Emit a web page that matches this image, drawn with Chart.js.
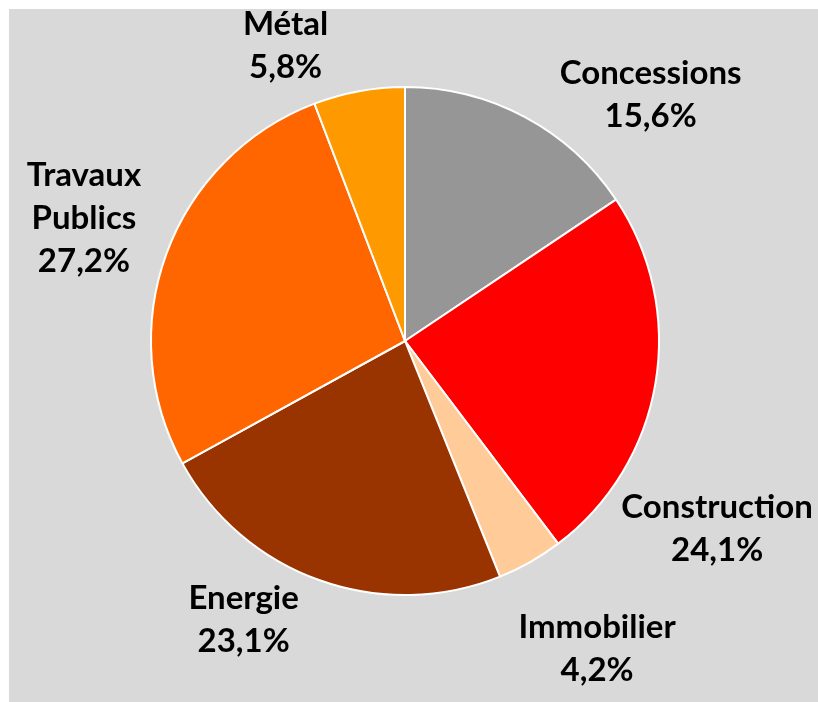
<!DOCTYPE html>
<html>
<head>
<meta charset="utf-8">
<script src="https://cdn.jsdelivr.net/npm/chart.js@4"></script>
<style>
  html, body { margin: 0; padding: 0; background: #ffffff; }
  #wrap { position: absolute; left: 0; top: 0; width: 818px; height: 702px; }
</style>
</head>
<body>
<div id="wrap"><canvas id="c" width="818" height="702"></canvas></div>
<script>
// ---- data ----
const categories = ['Concessions', 'Construction', 'Immobilier', 'Energie', 'Travaux Publics', 'Métal'];
const labelLines = [['Concessions'], ['Construction'], ['Immobilier'], ['Energie'], ['Travaux', 'Publics'], ['Métal']];
const values = [15.6, 24.1, 4.2, 23.1, 27.2, 5.8];
const colors = ['#969696', '#ff0000', '#ffcc99', '#993300', '#ff6600', '#ff9900'];

// label placement (polar, relative to pie centre: degrees clockwise from top, radius factor)
const labelLayout = [
  { angle: 44.9, dist: 1.370 },
  { angle: 121.1, dist: 1.435 },
  { angle: 148.0, dist: 1.427 },
  { angle: 210.1, dist: 1.267 },
  { angle: 290.9, dist: 1.353 },
  { angle: 338.0, dist: 1.255 }
];

function fmtPct(v) { return v.toFixed(1).replace('.', ',') + '%'; }

const bgPlugin = {
  id: 'bg',
  beforeDraw(chart) {
    const ctx = chart.ctx;
    ctx.save();
    ctx.fillStyle = '#ffffff';
    ctx.fillRect(0, 0, chart.width, chart.height);
    ctx.fillStyle = '#d9d9d9';
    ctx.fillRect(9, 9, chart.width - 9, chart.height - 9);
    ctx.restore();
  }
};

const labelPlugin = {
  id: 'outLabels',
  afterDatasetsDraw(chart) {
    const ctx = chart.ctx;
    const meta = chart.getDatasetMeta(0);
    ctx.save();
    ctx.fillStyle = '#000000';
    ctx.font = 'bold 33px Lato, "Open Sans", sans-serif';
    ctx.textAlign = 'center';
    ctx.textBaseline = 'middle';
    const lineH = 43;
    meta.data.forEach((arc, i) => {
      const lay = labelLayout[i];
      const a = lay.angle * Math.PI / 180;
      const r = arc.outerRadius * lay.dist;
      const cx = arc.x + Math.sin(a) * r;
      const cy = arc.y - Math.cos(a) * r;
      const lines = labelLines[i].concat([fmtPct(values[i])]);
      const y0 = cy - (lines.length - 1) * lineH / 2;
      lines.forEach((t, k) => ctx.fillText(t, cx, y0 + k * lineH));
    });
    ctx.restore();
  }
};

new Chart(document.getElementById('c'), {
  type: 'pie',
  data: {
    labels: categories,
    datasets: [{
      data: values,
      backgroundColor: colors,
      borderColor: '#ffffff',
      borderWidth: 2
    }]
  },
  options: {
    responsive: false,
    animation: false,
    layout: { padding: { left: 150, right: 158, top: 86, bottom: 106 } },
    plugins: {
      legend: { display: false },
      tooltip: { enabled: false }
    }
  },
  plugins: [bgPlugin, labelPlugin]
});
</script>
</body>
</html>
